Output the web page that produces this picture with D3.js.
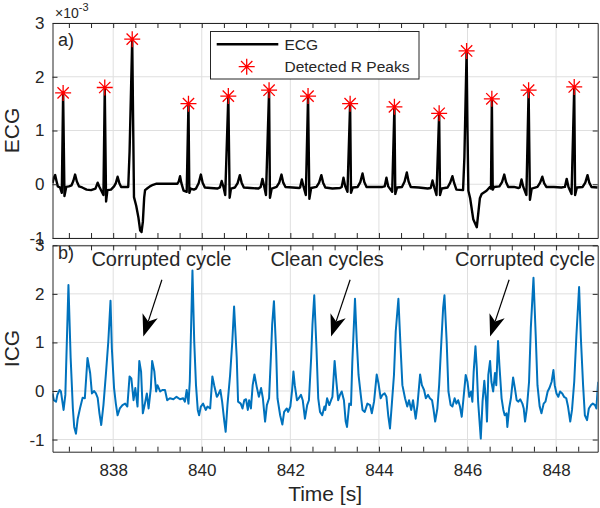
<!DOCTYPE html>
<html>
<head>
<meta charset="utf-8">
<script src="https://cdn.jsdelivr.net/npm/d3@7"></script>
<style>
  html, body { margin: 0; padding: 0; background: #fff; }
  svg { display: block; }
  text { font-family: 'Liberation Sans', Arial, Helvetica, sans-serif; fill: #262626; }
</style>
</head>
<body>
<script>
// ---------------- DATA ----------------
const xDomain = [836.63, 848.94];
const xTickLabels = [838, 840, 842, 844, 846, 848];
const ecgTicks = [-1, 0, 1, 2, 3];
const icgTicks = [-1, 0, 1, 2, 3];

// ECG (x 10^-3): [time s, value]
const ecgData = [
[836.63,0.02],[836.66,0.12],[836.69,0.17],[836.72,0.06],[836.75,-0.04],[836.80,-0.06],[836.84,-0.16],[836.87,1.70],[836.90,-0.22],[836.94,-0.05],
[837.00,-0.04],[837.06,-0.02],[837.10,0.06],[837.14,0.18],[837.18,0.05],[837.23,-0.04],[837.30,-0.06],[837.40,-0.10],[837.50,-0.11],[837.60,-0.08],
[837.65,0.03],[837.69,-0.05],[837.78,-0.20],[837.81,1.80],[837.84,-0.32],[837.87,-0.11],[837.95,-0.10],[838.02,-0.04],[838.06,0.02],[838.10,0.14],
[838.14,0.02],[838.18,-0.05],[838.34,-0.05],[838.37,0.60],[838.43,2.70],[838.45,1.20],[838.47,-0.24],[838.52,-0.40],[838.57,-0.62],[838.61,-0.86],
[838.64,-0.89],[838.67,-0.70],[838.70,-0.25],[838.72,-0.11],[838.78,-0.07],[838.83,-0.04],[838.90,-0.01],[838.98,0.01],[839.20,0.01],[839.45,0.01],
[839.48,0.05],[839.51,0.15],[839.54,0.02],[839.59,-0.12],[839.66,-0.14],[839.70,1.50],[839.72,-0.16],[839.75,-0.08],[839.82,-0.10],[839.87,-0.08],
[839.93,0.02],[839.98,0.18],[840.02,0.03],[840.07,-0.06],[840.20,-0.07],[840.35,-0.08],[840.41,-0.06],[840.45,0.06],[840.49,-0.05],[840.53,-0.20],
[840.60,1.64],[840.63,-0.25],[840.66,-0.08],[840.75,-0.06],[840.81,0.02],[840.86,0.17],[840.90,0.03],[840.95,-0.06],[841.10,-0.07],[841.28,-0.08],
[841.33,-0.05],[841.37,0.10],[841.41,-0.04],[841.45,-0.20],[841.52,1.75],[841.54,-0.25],[841.58,-0.08],[841.69,-0.05],[841.75,0.03],[841.80,0.18],
[841.84,0.03],[841.89,-0.05],[842.05,-0.06],[842.20,-0.07],[842.22,-0.06],[842.26,0.09],[842.30,-0.05],[842.35,-0.20],[842.40,1.64],[842.43,-0.27],
[842.47,-0.07],[842.59,-0.05],[842.65,0.03],[842.70,0.17],[842.74,0.03],[842.79,-0.06],[842.95,-0.08],[843.12,-0.07],[843.16,-0.05],[843.20,0.12],
[843.24,-0.04],[843.29,-0.14],[843.35,1.50],[843.37,-0.16],[843.41,-0.06],[843.52,-0.05],[843.58,0.04],[843.63,0.20],[843.67,0.04],[843.72,-0.05],
[843.90,-0.05],[844.08,-0.05],[844.13,-0.04],[844.17,0.12],[844.21,-0.04],[844.30,-0.14],[844.35,1.44],[844.37,-0.18],[844.41,-0.06],[844.52,-0.05],
[844.58,0.05],[844.63,0.22],[844.67,0.05],[844.72,-0.05],[844.90,-0.06],[845.10,-0.08],[845.17,-0.07],[845.21,0.07],[845.25,-0.06],[845.30,-0.20],
[845.36,1.32],[845.38,-0.20],[845.42,-0.08],[845.55,-0.06],[845.61,0.03],[845.66,0.15],[845.70,0.02],[845.75,-0.10],[845.90,-0.11],[845.93,0.50],
[845.98,2.48],[846.00,1.00],[846.02,-0.12],[846.06,-0.26],[846.13,-0.65],[846.21,-0.80],[846.28,-0.26],[846.32,-0.18],[846.43,-0.12],[846.51,-0.05],
[846.53,-0.08],[846.55,1.59],[846.57,-0.10],[846.60,-0.05],[846.72,-0.04],[846.78,0.04],[846.83,0.18],[846.87,0.04],[846.92,-0.05],[847.05,-0.05],
[847.15,-0.07],[847.18,-0.06],[847.22,0.09],[847.26,-0.05],[847.33,-0.20],[847.38,1.75],[847.41,-0.29],[847.45,-0.08],[847.58,-0.05],[847.64,0.03],
[847.69,0.14],[847.73,0.02],[847.78,-0.05],[847.95,-0.05],[848.12,-0.06],[848.20,-0.05],[848.24,0.10],[848.28,-0.05],[848.35,-0.18],[848.41,1.81],
[848.43,-0.20],[848.47,-0.06],[848.60,-0.05],[848.66,0.03],[848.71,0.17],[848.75,0.03],[848.80,-0.05],[848.94,-0.06]
];

// Detected R peaks
const rPeakTimes  = [836.87, 837.81, 838.43, 839.70, 840.60, 841.52, 842.40, 843.35, 844.35, 845.36, 845.98, 846.55, 847.38, 848.41];
const rPeakValues = [1.70, 1.80, 2.70, 1.50, 1.64, 1.75, 1.64, 1.50, 1.44, 1.32, 2.48, 1.59, 1.75, 1.81];

// ICG: [time s, value]
const icgData = [
[836.63,-0.05],[836.66,-0.19],[836.71,-0.22],[836.74,-0.08],[836.79,0.02],[836.82,-0.01],[836.88,-0.39],[836.92,-0.08],[836.99,2.18],[837.04,0.68],
[837.09,-0.36],[837.12,-0.74],[837.16,-0.88],[837.20,-0.57],[837.25,-0.36],[837.31,-0.14],[837.36,-0.15],[837.42,0.68],[837.48,0.37],[837.52,-0.05],
[837.57,0.00],[837.61,-0.05],[837.65,-0.14],[837.69,-0.46],[837.73,-0.70],[837.78,-0.29],[837.84,0.40],[837.89,1.02],[837.94,1.86],[837.97,0.88],
[838.02,0.06],[838.06,-0.26],[838.10,-0.50],[838.15,-0.36],[838.21,-0.29],[838.27,-0.26],[838.32,-0.32],[838.37,0.30],[838.41,0.26],[838.46,-0.19],
[838.50,0.06],[838.55,-0.32],[838.59,0.62],[838.63,0.40],[838.67,-0.46],[838.71,-0.29],[838.76,-0.05],[838.80,-0.36],[838.85,0.06],[838.88,0.62],
[838.93,0.40],[838.97,-0.01],[839.00,0.12],[839.06,-0.01],[839.11,0.02],[839.17,0.02],[839.22,-0.19],[839.28,-0.15],[839.36,-0.17],[839.43,-0.12],
[839.51,-0.17],[839.58,-0.15],[839.62,-0.22],[839.66,0.02],[839.70,-0.26],[839.73,0.20],[839.79,2.48],[839.83,1.02],[839.87,0.12],[839.91,-0.39],
[839.94,-0.50],[839.98,-0.32],[840.03,-0.26],[840.09,-0.39],[840.13,-0.32],[840.19,-0.36],[840.24,0.30],[840.28,0.12],[840.34,-0.12],[840.37,-0.08],
[840.42,0.02],[840.46,-0.22],[840.51,-0.63],[840.54,-0.84],[840.58,-0.29],[840.64,0.33],[840.69,1.02],[840.73,1.74],[840.79,0.68],[840.82,-0.22],
[840.88,-0.26],[840.92,-0.36],[840.96,-0.19],[841.00,-0.17],[841.04,-0.39],[841.07,-0.19],[841.11,-0.36],[841.15,0.12],[841.19,0.34],[841.24,0.09],
[841.29,-0.12],[841.34,0.06],[841.38,-0.15],[841.43,-0.63],[841.47,-0.29],[841.52,-0.15],[841.56,0.68],[841.59,1.37],[841.63,1.85],[841.68,0.81],
[841.71,-0.15],[841.77,-0.50],[841.82,-0.69],[841.86,-0.43],[841.92,-0.36],[841.95,-0.43],[842.00,-0.32],[842.04,0.02],[842.07,0.40],[842.10,0.12],
[842.15,-0.19],[842.19,-0.15],[842.24,-0.08],[842.28,-0.19],[842.33,-0.57],[842.38,-0.29],[842.42,-0.19],[842.47,0.68],[842.50,1.37],[842.54,1.97],
[842.59,0.88],[842.63,-0.15],[842.67,-0.43],[842.72,-0.50],[842.77,-0.32],[842.79,-0.39],[842.83,-0.15],[842.88,-0.29],[842.92,-0.19],[842.95,-0.12],
[843.00,0.62],[843.04,0.19],[843.08,-0.19],[843.12,-0.08],[843.16,-0.01],[843.21,-0.19],[843.25,-0.63],[843.28,-0.74],[843.33,-0.26],[843.37,-0.29],
[843.40,0.61],[843.46,1.90],[843.50,1.02],[843.54,0.33],[843.59,-0.08],[843.63,-0.39],[843.68,-0.43],[843.74,-0.26],[843.80,-0.29],[843.84,-0.46],
[843.89,-0.22],[843.95,0.34],[843.99,0.16],[844.04,-0.15],[844.08,-0.08],[844.13,-0.05],[844.17,-0.12],[844.21,-0.50],[844.25,-0.77],[844.29,-0.29],
[844.34,0.33],[844.38,1.23],[844.44,1.90],[844.49,0.88],[844.53,0.12],[844.59,-0.15],[844.64,-0.32],[844.68,-0.19],[844.73,-0.39],[844.77,-0.19],
[844.83,-0.57],[844.87,-0.29],[844.93,0.34],[844.97,0.12],[845.02,0.02],[845.06,-0.15],[845.11,-0.08],[845.15,-0.15],[845.20,-0.19],[845.23,-0.36],
[845.27,-0.63],[845.32,-0.36],[845.36,0.12],[845.41,1.02],[845.45,1.71],[845.48,1.97],[845.53,1.02],[845.57,-0.01],[845.62,-0.29],[845.66,-0.32],
[845.71,-0.15],[845.75,-0.26],[845.79,-0.19],[845.83,-0.32],[845.87,-0.53],[845.91,-0.15],[845.96,0.33],[846.00,0.19],[846.04,-0.12],[846.08,-0.01],
[846.11,-0.22],[846.14,0.40],[846.18,0.92],[846.21,0.47],[846.24,-0.22],[846.30,-0.98],[846.34,-0.22],[846.38,0.21],[846.42,-0.22],[846.44,-0.63],
[846.47,0.33],[846.51,0.62],[846.54,0.19],[846.58,-0.01],[846.62,0.37],[846.65,0.12],[846.69,1.03],[846.72,0.54],[846.77,-0.15],[846.81,-0.39],
[846.84,-0.50],[846.88,-0.46],[846.90,-0.74],[846.94,-0.36],[846.98,-0.15],[847.03,0.28],[847.07,0.06],[847.11,-0.19],[847.15,-0.22],[847.19,-0.17],
[847.24,-0.26],[847.27,-0.36],[847.30,-0.63],[847.34,-0.36],[847.39,0.19],[847.43,1.30],[847.49,2.33],[847.54,1.16],[847.58,0.12],[847.63,-0.32],
[847.67,-0.46],[847.72,-0.26],[847.76,-0.22],[847.81,-0.01],[847.85,0.06],[847.90,0.19],[847.94,0.43],[847.97,0.12],[848.01,-0.05],[848.05,-0.12],
[848.09,-0.01],[848.14,-0.05],[848.18,-0.12],[848.23,-0.15],[848.27,-0.32],[848.32,-0.63],[848.36,-0.39],[848.41,0.19],[848.46,1.16],[848.52,2.14],
[848.56,1.09],[848.61,0.12],[848.65,-0.50],[848.70,-0.60],[848.74,-0.36],[848.79,-0.29],[848.83,-0.26],[848.88,-0.29],[848.91,-0.36],[848.95,0.19]
];

// Annotations (text, label anchor [t, v], arrow from [t, v] to [t, v])
const annLabels = ['Corrupted cycle', 'Clean cycles', 'Corrupted cycle'];
const annTextPos = [[839.09, 2.58], [842.83, 2.58], [847.30, 2.58]];
const annArrowFrom = [[839.10, 2.29], [843.35, 2.29], [846.94, 2.29]];
const annArrowTo = [[838.68, 1.12], [842.92, 1.12], [846.51, 1.12]];

// ---------------- CHART ----------------
const W = 600, H = 508;
const L = 52.5, R = 597.7;
const topP = {y0: 23, y1: 238};
const botP = {y0: 245.3, y1: 451.7};
const axisCol = '#262626';
const gridCol = '#dfdfdf';
const font = "'Liberation Sans', Arial, Helvetica, sans-serif";

const svg = d3.select('body').append('svg').attr('width', W).attr('height', H);

const x = d3.scaleLinear().domain(xDomain).range([L, R]);
const yE = d3.scaleLinear().domain([-1, 3]).range([topP.y1, topP.y0]);
const yI = d3.scaleLinear().domain([-1.25, 3]).range([botP.y1, botP.y0]);

const minorX = d3.range(837, 849, 0.5);

const defs = svg.append('defs');
defs.append('clipPath').attr('id', 'clipTop').append('rect')
  .attr('x', L).attr('y', topP.y0).attr('width', R - L).attr('height', topP.y1 - topP.y0);
defs.append('clipPath').attr('id', 'clipBot').append('rect')
  .attr('x', L).attr('y', botP.y0).attr('width', R - L).attr('height', botP.y1 - botP.y0);

function panel(y, P, ticks) {
  const g = svg.append('g');
  g.append('g').selectAll('line').data(xTickLabels).join('line')
    .attr('x1', d => x(d)).attr('x2', d => x(d)).attr('y1', P.y0).attr('y2', P.y1)
    .attr('stroke', gridCol).attr('stroke-width', 1);
  g.append('g').selectAll('line').data(ticks).join('line')
    .attr('x1', L).attr('x2', R).attr('y1', d => y(d)).attr('y2', d => y(d))
    .attr('stroke', gridCol).attr('stroke-width', 1);
  return g;
}

function frame(y, P, ticks, showX) {
  const g = svg.append('g');
  const ab = d3.axisBottom(x).tickValues(minorX).tickSizeInner(-5).tickSizeOuter(0).tickPadding(12)
    .tickFormat(d => (showX && xTickLabels.includes(d)) ? String(d) : '');
  g.append('g').attr('transform', `translate(0,${P.y1})`).call(ab);
  const at = d3.axisTop(x).tickValues(minorX).tickSizeInner(-5).tickSizeOuter(0).tickFormat('');
  g.append('g').attr('transform', `translate(0,${P.y0})`).call(at);
  const al = d3.axisLeft(y).tickValues(ticks).tickSizeInner(-5).tickSizeOuter(0).tickPadding(8)
    .tickFormat(d => String(d));
  g.append('g').attr('transform', `translate(${L},0)`).call(al);
  const ar = d3.axisRight(y).tickValues(ticks).tickSizeInner(-5).tickSizeOuter(0).tickFormat('');
  g.append('g').attr('transform', `translate(${R},0)`).call(ar);
  g.selectAll('.domain').attr('stroke', axisCol).attr('stroke-width', 1);
  g.selectAll('.tick line').attr('stroke', axisCol).attr('stroke-width', 1);
  g.selectAll('.tick text').attr('font-family', font).attr('font-size', 17).attr('fill', axisCol);
  return g;
}

// --- top panel (ECG)
panel(yE, topP, ecgTicks);
const lineE = d3.line().x(d => x(d[0])).y(d => yE(d[1]));
svg.append('path').datum(ecgData).attr('clip-path', 'url(#clipTop)')
  .attr('d', lineE).attr('fill', 'none').attr('stroke', '#000').attr('stroke-width', 2.4)
  .attr('stroke-linejoin', 'round');

function star(g, cx, cy, r, col) {
  const s = r * Math.SQRT1_2;
  g.append('path')
    .attr('d', `M${cx - r},${cy}L${cx + r},${cy}M${cx},${cy - r}L${cx},${cy + r}` +
               `M${cx - s},${cy - s}L${cx + s},${cy + s}M${cx - s},${cy + s}L${cx + s},${cy - s}`)
    .attr('stroke', col).attr('stroke-width', 1.3).attr('fill', 'none');
}
const starG = svg.append('g');
rPeakTimes.forEach((t, i) => star(starG, x(t), yE(rPeakValues[i]), 8, '#ff0000'));

frame(yE, topP, ecgTicks, false);

// --- bottom panel (ICG)
panel(yI, botP, icgTicks);
const lineI = d3.line().x(d => x(d[0])).y(d => yI(d[1]));
svg.append('path').datum(icgData).attr('clip-path', 'url(#clipBot)')
  .attr('d', lineI).attr('fill', 'none').attr('stroke', '#0072BD').attr('stroke-width', 2)
  .attr('stroke-linejoin', 'round');

frame(yI, botP, icgTicks, true);

// multiplier label
const mult = svg.append('text').attr('x', 55).attr('y', 18).attr('font-size', 14).attr('font-family', font).attr('fill', axisCol);
mult.append('tspan').text('×10');
mult.append('tspan').attr('dy', -7).attr('font-size', 11).text('-3');

// panel tags
svg.append('text').attr('x', 58).attr('y', 46).attr('font-size', 18).attr('font-family', font).text('a)');
svg.append('text').attr('x', 58).attr('y', 259).attr('font-size', 18).attr('font-family', font).text('b)');

// axis titles
svg.append('text').attr('transform', `translate(19,${(topP.y0 + topP.y1) / 2}) rotate(-90)`)
  .attr('text-anchor', 'middle').attr('font-size', 21).attr('font-family', font).text('ECG');
svg.append('text').attr('transform', `translate(19,${(botP.y0 + botP.y1) / 2}) rotate(-90)`)
  .attr('text-anchor', 'middle').attr('font-size', 21).attr('font-family', font).text('ICG');
svg.append('text').attr('x', (L + R) / 2).attr('y', 501)
  .attr('text-anchor', 'middle').attr('font-size', 21).attr('font-family', font).text('Time [s]');

// legend
const lg = svg.append('g');
lg.append('rect').attr('x', 210.5).attr('y', 31.5).attr('width', 208.5).attr('height', 47.5)
  .attr('fill', '#fff').attr('stroke', axisCol).attr('stroke-width', 1);
lg.append('line').attr('x1', 216.7).attr('x2', 278.3).attr('y1', 44.3).attr('y2', 44.3)
  .attr('stroke', '#000').attr('stroke-width', 2.4);
lg.append('text').attr('x', 284.5).attr('y', 49.8).attr('font-size', 15.5).attr('font-family', font).attr('fill', '#000').text('ECG');
star(lg, 246.7, 66.7, 8, '#ff0000');
lg.append('text').attr('x', 284.5).attr('y', 72.2).attr('font-size', 15.5).attr('font-family', font).attr('fill', '#000').text('Detected R Peaks');

// annotations
const ag = svg.append('g');
annLabels.forEach((lab, i) => {
  ag.append('text').attr('x', x(annTextPos[i][0])).attr('y', yI(annTextPos[i][1]))
    .attr('text-anchor', 'middle').attr('font-size', 20).attr('font-family', font).attr('fill', '#000').text(lab);
  const x1 = x(annArrowFrom[i][0]), y1 = yI(annArrowFrom[i][1]);
  const x2 = x(annArrowTo[i][0]), y2 = yI(annArrowTo[i][1]);
  const dx = x2 - x1, dy = y2 - y1, len = Math.hypot(dx, dy);
  const ux = dx / len, uy = dy / len, nx = -uy, ny = ux;
  const hl = 22, hw = 8, notch = 16;
  const bx = x2 - ux * hl, by = y2 - uy * hl;
  const mx = x2 - ux * notch, my = y2 - uy * notch;
  ag.append('line').attr('x1', x1).attr('y1', y1).attr('x2', mx).attr('y2', my)
    .attr('stroke', '#000').attr('stroke-width', 1.2);
  ag.append('path')
    .attr('d', `M${x2},${y2}L${bx + nx * hw},${by + ny * hw}L${mx},${my}L${bx - nx * hw},${by - ny * hw}Z`)
    .attr('fill', '#000');
});
</script>
</body>
</html>
